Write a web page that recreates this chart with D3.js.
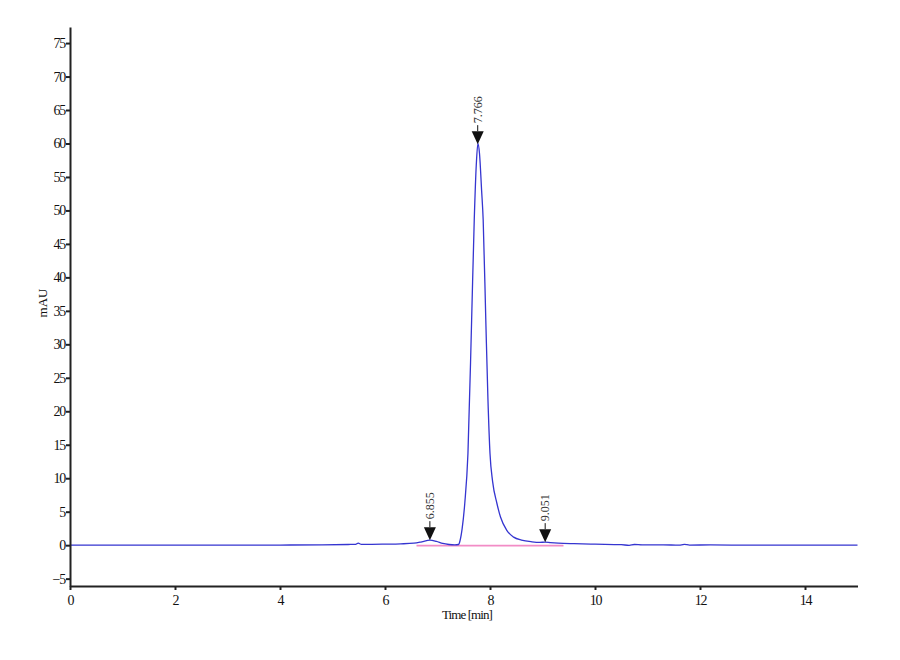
<!DOCTYPE html>
<html>
<head>
<meta charset="utf-8">
<script src="https://cdn.jsdelivr.net/npm/d3@7"></script>
<style>
  body { margin: 0; background: #fff; }
  svg text { font-family: "Liberation Serif", serif; }
</style>
</head>
<body>
<div id="chart"></div>
<script>
// chromatogram trace (time in min, signal in mAU)
const times = [0, 1, 2, 3, 4, 4.8, 5.3, 5.44, 5.49, 5.55, 5.7, 6.0, 6.3, 6.55, 6.7, 6.855, 6.98, 7.1, 7.22, 7.33,
  7.40, 7.43, 7.47, 7.52, 7.58, 7.65, 7.70, 7.74, 7.77, 7.80, 7.84, 7.87, 7.92, 7.96, 8.00, 8.05, 8.13, 8.2,
  8.32, 8.45, 8.6, 8.8, 8.95, 9.05, 9.15, 9.3, 9.6, 10.0, 10.5, 10.65, 10.75, 10.9, 11.3, 11.6, 11.7, 11.8,
  12.2, 13, 14, 15];
const signal = [0, 0, 0, 0, 0.02, 0.05, 0.1, 0.12, 0.3, 0.12, 0.12, 0.15, 0.2, 0.3, 0.5, 0.75, 0.55, 0.25, 0.1, 0.05,
  0.1, 0.7, 2.5, 6.3, 13.7, 33.6, 48.6, 57, 60, 58.5, 53, 48.6, 33.6, 22, 13.7, 9.5, 6.3, 4.2,
  2.2, 1.2, 0.75, 0.5, 0.42, 0.45, 0.38, 0.3, 0.22, 0.15, 0.08, -0.03, 0.1, 0.05, 0.05, 0.0, 0.12, 0.02,
  0.03, 0, 0, 0];

// integration baseline (pink)
const baseTimes = [6.6, 9.4];
const baseValues = [0, 0];

// detected peaks
const peakTimes = [6.855, 7.766, 9.051];
const peakHeights = [0.75, 59.9, 0.45];
const peakLabels = ["6.855", "7.766", "9.051"];

const xTicks = [0, 2, 4, 6, 8, 10, 12, 14];
const yTicks = [-5, 0, 5, 10, 15, 20, 25, 30, 35, 40, 45, 50, 55, 60, 65, 70, 75];

const width = 900, height = 660;

const svg = d3.select("#chart")
  .append("svg")
  .attr("width", width)
  .attr("height", height);

const xScale = d3.scaleLinear().domain([0, 15]).range([70, 857.5]);
const yScale = d3.scaleLinear().domain([-6.1, 77.4]).range([586, 27]);

// baseline under the trace
const baseData = baseTimes.map((t, i) => [t, baseValues[i]]);
svg.append("path")
  .datum(baseData)
  .attr("fill", "none")
  .attr("stroke", "#f28cc6")
  .attr("stroke-width", 1.6)
  .attr("d", d3.line().x(d => xScale(d[0])).y(d => yScale(d[1]) + 0.5));

const trace = times.map((t, i) => [t, signal[i]]);
svg.append("path")
  .datum(trace)
  .attr("fill", "none")
  .attr("stroke", "#3535d0")
  .attr("stroke-width", 1.3)
  .attr("d", d3.line()
    .x(d => xScale(d[0]))
    .y(d => yScale(d[1]))
    .curve(d3.curveMonotoneX));

// axes
const yAxis = svg.append("g")
  .attr("transform", `translate(${xScale(0)},0)`)
  .call(d3.axisLeft(yScale).tickValues(yTicks).tickSize(4).tickSizeOuter(0).tickPadding(1));
const xAxis = svg.append("g")
  .attr("transform", `translate(0,${yScale.range()[0]})`)
  .call(d3.axisBottom(xScale).tickValues(xTicks).tickSize(4).tickSizeOuter(0).tickPadding(5));

[yAxis, xAxis].forEach(g => {
  g.select(".domain").attr("stroke", "#222").attr("stroke-width", 2);
  g.selectAll(".tick line").attr("stroke", "#222").attr("stroke-width", 2);
  g.selectAll(".tick text")
    .attr("fill", "#111")
    .style("font-family", "Liberation Serif")
    .style("font-size", "14px")
    .style("letter-spacing", "-1.2px");
});

svg.append("text")
  .attr("x", 467)
  .attr("y", 619)
  .attr("text-anchor", "middle")
  .attr("font-size", 13)
  .attr("letter-spacing", "-0.9px")
  .attr("fill", "#111")
  .text("Time [min]");

svg.append("text")
  .attr("transform", "translate(47,303) rotate(-90)")
  .attr("text-anchor", "middle")
  .attr("font-size", 13)
  .attr("fill", "#111")
  .text("mAU");

// peak markers
const markers = svg.selectAll(".peak")
  .data(peakTimes)
  .enter()
  .append("g")
  .attr("class", "peak")
  .attr("transform", (t, i) => `translate(${xScale(t)},${yScale(peakHeights[i])})`);

markers.append("path")
  .attr("d", "M0,0 L-6,-13 L6,-13 Z")
  .attr("fill", "#111");

markers.append("line")
  .attr("x1", 0).attr("x2", 0)
  .attr("y1", -13).attr("y2", -19)
  .attr("stroke", "#111")
  .attr("stroke-width", 1);

markers.append("text")
  .attr("transform", "translate(4,-21) rotate(-90)")
  .attr("text-anchor", "start")
  .style("font-family", "Liberation Serif")
  .style("font-size", "12px")
  .attr("fill", "#333")
  .text((t, i) => peakLabels[i]);
</script>
</body>
</html>
